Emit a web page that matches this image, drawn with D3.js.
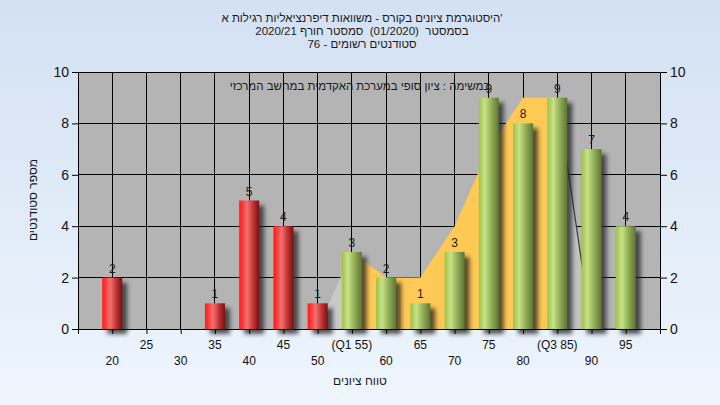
<!DOCTYPE html>
<html><head><meta charset="utf-8">
<script src="https://cdn.jsdelivr.net/npm/d3@7"></script>
<style>
html,body{margin:0;padding:0;}
svg{display:block;font-family:"Liberation Sans",Arial,sans-serif;}
text{white-space:pre;}
</style></head>
<body>
<svg id="c" width="720" height="405"></svg>
<script>
// ---- data ----
const titleLines = [
  "היסטוגרמת ציונים בקורס - משוואות דיפרנציאליות רגילות א'",
  "בסמסטר  (01/2020)  סמסטר חורף 2020/21",
  "סטודנטים רשומים - 76"
];
const innerNote = "במשימה : ציון סופי במערכת האקדמית במחשב המרכזי";
const xTitle = "טווח ציונים";
const yTitle = "מספר סטודנטים";
const categories = [20,25,30,35,40,45,50,55,60,65,70,75,80,85,90,95];
const counts     = [2, 0, 0, 1, 5, 4, 1, 3, 2, 1, 3, 9, 8, 9, 7, 4];
const xTickLabels = ["20","25","30","35","40","45","50","(Q1 55)","60","65","70","75","80","(Q3 85)","90","95"];
const passMark = 55;
const yTicks = [0,2,4,6,8,10];
// range area (Q1..Q3 highlighted)
const areaX = [50,55,60,65,70,75,80,85,90];
const areaY = [0, 3, 2, 2, 4, 7, 9, 9, 0];
const q1 = 55, q3 = 85;
const tailLineX = [85,90,95];
const tailLineY = [9, 0, 0];

// ---- layout ----
const svg = d3.select("#c");
const W = 720, H = 405;
const L = 78, R = 660, T = 72, B = 329;
const x = d3.scaleLinear().domain([15,100]).range([L,R]);
const y = d3.scaleLinear().domain([0,10]).range([B,T]);
const defs = svg.append("defs");

const bg = defs.append("linearGradient").attr("id","bg").attr("x1",0).attr("y1",0).attr("x2",0).attr("y2",1);
bg.append("stop").attr("offset","0%").attr("stop-color","#d3e1f3");
bg.append("stop").attr("offset","100%").attr("stop-color","#eef5fd");

const red = defs.append("linearGradient").attr("id","red").attr("x1",0).attr("y1",0).attr("x2",1).attr("y2",0);
[["0%","#ff1c1c"],["15%","#ff3434"],["40%","#ee7272"],["70%","#c43232"],["100%","#781010"]]
  .forEach(s=>red.append("stop").attr("offset",s[0]).attr("stop-color",s[1]));
const green = defs.append("linearGradient").attr("id","green").attr("x1",0).attr("y1",0).attr("x2",1).attr("y2",0);
[["0%","#9cc24a"],["30%","#c8e287"],["60%","#97b259"],["100%","#5a7530"]]
  .forEach(s=>green.append("stop").attr("offset",s[0]).attr("stop-color",s[1]));

const blur = defs.append("filter").attr("id","blur").attr("x","-50%").attr("y","-50%").attr("width","200%").attr("height","200%");
blur.append("feGaussianBlur").attr("stdDeviation",2);

svg.append("rect").attr("width",W).attr("height",H).attr("fill","url(#bg)");
svg.append("rect").attr("x",L).attr("y",T).attr("width",R-L).attr("height",B-T).attr("fill","#b4b4b4");

// gridlines
const gx = d3.range(15,101,5);
svg.append("g").selectAll("line").data(gx).join("line")
  .attr("x1",d=>x(d)).attr("x2",d=>x(d)).attr("y1",T).attr("y2",B)
  .attr("stroke","#000").attr("stroke-width",1).attr("shape-rendering","crispEdges");
svg.append("g").selectAll("line").data(yTicks).join("line")
  .attr("x1",L).attr("x2",R).attr("y1",d=>y(d)).attr("y2",d=>y(d))
  .attr("stroke","#000").attr("stroke-width",1).attr("shape-rendering","crispEdges");

// areas
const pts = areaX.map((v,i)=>({x:v,y:areaY[i]}));
const area = d3.area().x(d=>x(d.x)).y0(y(0)).y1(d=>y(d.y));
svg.append("path").datum(pts.filter(d=>d.x<=q1)).attr("d",area).attr("fill","#c9c9c9");
svg.append("path").datum(pts.filter(d=>d.x>=q3)).attr("d",area).attr("fill","#c2c2c2");
svg.append("path").datum(pts.filter(d=>d.x>=q1&&d.x<=q3)).attr("d",area).attr("fill","#ffc955");
const tail = tailLineX.map((v,i)=>({x:v,y:tailLineY[i]}));
svg.append("path").datum(tail).attr("d",d3.line().x(d=>x(d.x)).y(d=>y(d.y)))
  .attr("fill","none").attr("stroke","#3a3a3a").attr("stroke-width",1.2);

// inner note
svg.append("text").attr("x",360).attr("y",90).attr("text-anchor","middle")
  .attr("font-size",11.5).attr("fill","#1a1a1a").text(innerNote);

// bars
const data = categories.map((c,i)=>({c,v:counts[i],lab:xTickLabels[i],i}));
const bw = 20;
const bars = data.filter(d=>d.v>0);
svg.append("g").selectAll("rect").data(bars).join("rect")
  .attr("x",d=>x(d.c)-bw/2+5).attr("y",d=>y(d.v)+5).attr("width",bw).attr("height",d=>y(0)-y(d.v))
  .attr("fill","#222").attr("opacity",0.75).attr("filter","url(#blur)");
svg.append("g").selectAll("rect").data(bars).join("rect")
  .attr("x",d=>x(d.c)-bw/2).attr("y",d=>y(d.v)).attr("width",bw).attr("height",d=>y(0)-y(d.v))
  .attr("fill",d=>d.c<passMark?"url(#red)":"url(#green)");
svg.append("g").selectAll("text").data(bars).join("text")
  .attr("x",d=>x(d.c)).attr("y",d=>y(d.v)-5).attr("text-anchor","middle")
  .attr("font-size",12).attr("fill","#1a1a1a").text(d=>d.v);

// axes
const axisCol = "#000";
const yl = d3.axisLeft(y).tickValues(yTicks).tickSize(6).tickPadding(3);
const gl = svg.append("g").attr("transform",`translate(${L},0)`).call(yl);
const yr = d3.axisRight(y).tickValues(yTicks).tickSize(7).tickPadding(3);
const gr = svg.append("g").attr("transform",`translate(${R},0)`).call(yr);
const xb = d3.axisBottom(x).tickValues(gx).tickSize(5).tickFormat("");
const gb = svg.append("g").attr("transform",`translate(0,${B})`).call(xb);
[gl,gr,gb].forEach(g=>{
  g.select(".domain").attr("stroke",axisCol);
  g.selectAll("line").attr("stroke",axisCol);
  g.selectAll("text").attr("font-size",14).attr("fill","#111").attr("font-family","Liberation Sans, Arial, sans-serif");
});

// x labels staggered
svg.append("g").selectAll("text").data(data).join("text")
  .attr("x",d=>x(d.c)).attr("y",d=>d.i%2===1?349:365).attr("text-anchor","middle")
  .attr("font-size",12).attr("fill","#111").text(d=>d.lab);

// titles
titleLines.forEach((t,i)=>{
  svg.append("text").attr("x",362).attr("y",22+i*13).attr("text-anchor","middle")
    .attr("font-size",11.5).attr("fill","#1a1a1a").text(t);
});
svg.append("text").attr("x",360).attr("y",385).attr("text-anchor","middle")
  .attr("font-size",12).attr("fill","#1a1a1a").text(xTitle);
svg.append("text").attr("transform","translate(37,200) rotate(-90)").attr("text-anchor","middle")
  .attr("font-size",12).attr("fill","#1a1a1a").text(yTitle);
</script>
</body></html>
